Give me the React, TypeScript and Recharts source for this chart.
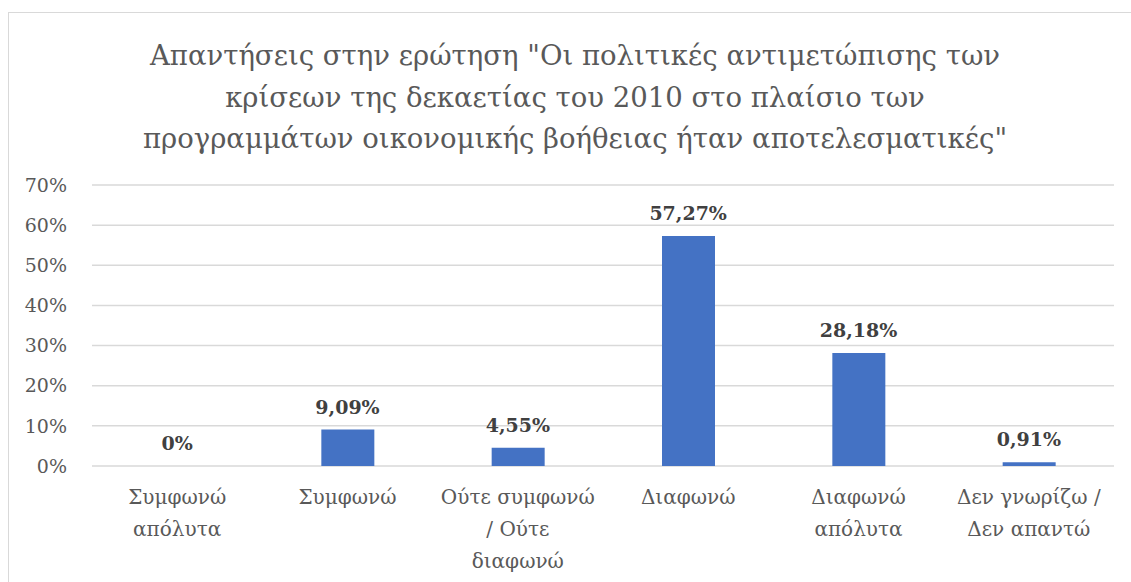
import { ComposedChart, Bar, Line, XAxis, YAxis, CartesianGrid, LabelList } from "recharts";

const categories = [
  "Συμφωνώ\nαπόλυτα",
  "Συμφωνώ",
  "Ούτε συμφωνώ\n/ Ούτε\nδιαφωνώ",
  "Διαφωνώ",
  "Διαφωνώ\nαπόλυτα",
  "Δεν γνωρίζω /\nΔεν απαντώ",
];
const values = [0, 9.09, 4.55, 57.27, 28.18, 0.91];
const yTicks = [0, 10, 20, 30, 40, 50, 60, 70];

const titleLines = [
  "Απαντήσεις στην ερώτηση \"Οι πολιτικές αντιμετώπισης των",
  "κρίσεων της δεκαετίας του 2010 στο πλαίσιο των",
  "προγραμμάτων οικονομικής βοήθειας ήταν αποτελεσματικές\"",
];

const data = categories.map((c, i) => ({ name: c, value: values[i] }));

const FONT = "DejaVu Serif, serif";
const GREY = "#595959";

const fmtPct = (v: number) => `${String(v).replace(".", ",")}%`;

const CategoryTick = (props: any) => {
  const { x, y, payload } = props;
  const lines = String(payload.value).split("\n");
  return (
    <text x={x} y={y} textAnchor="middle" fill={GREY} fontSize={20} fontFamily={FONT}>
      {lines.map((l, i) => (
        <tspan key={i} x={x} dy={i === 0 ? 30 : 32}>
          {l}
        </tspan>
      ))}
    </text>
  );
};

// labels are hung on an invisible line so the 0 value also gets one
const ValueLabel = (props: any) => {
  const { x, y, value } = props;
  return (
    <text
      x={Number(x)}
      y={Number(y) - 16}
      textAnchor="middle"
      fill="#404040"
      fontSize={19}
      fontWeight="bold"
      fontFamily={FONT}
    >
      {fmtPct(Number(value))}
    </text>
  );
};

export default function App() {
  return (
    <div style={{ position: "relative", width: 1131, height: 582, overflow: "hidden" }}>
      <style>{"body{margin:0;overflow:hidden}"}</style>
      <div
        style={{
          position: "absolute",
          left: 8,
          top: 12,
          width: 1140,
          height: 590,
          border: "1px solid #d9d9d9",
          background: "#fff",
        }}
      />
      <div
        style={{
          position: "absolute",
          left: 0,
          top: 35,
          width: 1150,
          textAlign: "center",
          fontFamily: FONT,
          fontSize: 27.5,
          lineHeight: "41.5px",
          color: GREY,
        }}
      >
        {titleLines.map((t, i) => (
          <div key={i}>{t}</div>
        ))}
      </div>
      <div style={{ position: "absolute", left: 0, top: 0 }}>
        <ComposedChart
          width={1131}
          height={582}
          data={data}
          margin={{ top: 185, right: 17, bottom: 86, left: 32 }}
        >
          <CartesianGrid vertical={false} stroke="#d9d9d9" strokeWidth={1.5} />
          <XAxis
            dataKey="name"
            axisLine={false}
            tickLine={false}
            interval={0}
            height={30}
            tick={<CategoryTick />}
          />
          <YAxis
            width={60}
            domain={[0, 70]}
            ticks={yTicks}
            axisLine={false}
            tickLine={false}
            tickSize={0}
            tickMargin={25}
            tickFormatter={(v: number) => `${v}%`}
            tick={{ fill: GREY, fontSize: 19, fontFamily: FONT }}
          />
          <Bar dataKey="value" fill="#4472c4" barSize={53} isAnimationActive={false} />
          <Line
            dataKey="value"
            stroke="none"
            dot={false}
            activeDot={false}
            legendType="none"
            isAnimationActive={false}
          >
            <LabelList dataKey="value" content={<ValueLabel />} />
          </Line>
        </ComposedChart>
      </div>
    </div>
  );
}
